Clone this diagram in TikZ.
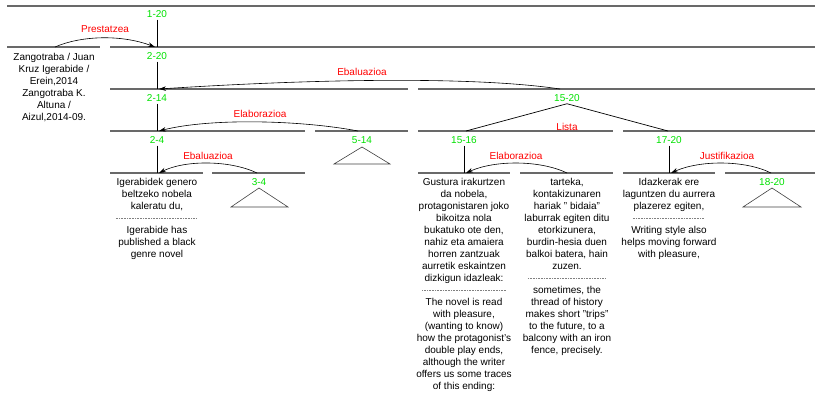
\documentclass[tikz,border=0pt]{standalone}
\usepackage{fontspec}
\setmainfont{Liberation Sans}
\usetikzlibrary{arrows.meta}
\definecolor{spancol}{RGB}{0,225,0}
\definecolor{relcol}{RGB}{255,0,0}
\definecolor{hlcol}{RGB}{105,105,105}
\newcommand{\sepline}[1]{\leavevmode{\color{gray}\leaders\hbox to 1.6pt{\hss\rule[3pt]{1pt}{0.7pt}\hss}\hskip #1}}
\begin{document}
\begin{tikzpicture}[x=1pt,y=-1pt,
  hline/.style={draw=hlcol, line width=1.4pt},
  vline/.style={draw=black, line width=0.7pt},
  spanlbl/.style={text=spancol, font=\fontsize{10}{12}\selectfont, inner sep=2pt},
  relname/.style={text=relcol, font=\fontsize{10}{12}\selectfont, inner sep=1pt},
  txt/.style={font=\fontsize{10}{12}\selectfont, align=center, inner sep=0pt, anchor=north},
  arr/.style={draw=black, line width=0.6pt, -{Stealth[length=7pt,width=4.5pt]}},
  tri/.style={draw=gray!50!black, line width=0.6pt}]
\useasboundingbox (0,0) rectangle (815,393);

% horizontal level lines
\draw[hline] (7,6) -- (815,6);
\draw[hline] (7,47) -- (100,47);
\draw[hline] (110,47) -- (815,47);
\draw[hline] (110,89) -- (408,89);
\draw[hline] (418,89) -- (815,89);
\draw[hline] (110,131) -- (305,131);
\draw[hline] (315,131) -- (408,131);
\draw[hline] (418,131) -- (613,131);
\draw[hline] (623,131) -- (815,131);
\draw[hline] (110,173) -- (203,173);
\draw[hline] (212,173) -- (305,173);
\draw[hline] (418,173) -- (510,173);
\draw[hline] (520,173) -- (613,173);
\draw[hline] (623,173) -- (715,173);
\draw[hline] (725,173) -- (815,173);

% span labels
\node[spanlbl] (s120) at (157,14) {1-20};
\node[spanlbl] (s220) at (157,56) {2-20};
\node[spanlbl] (s214) at (157,98) {2-14};
\node[spanlbl] (s24) at (157,140) {2-4};
\node[spanlbl] (s514) at (362,140) {5-14};
\node[spanlbl] (s1520) at (567,98) {15-20};
\node[spanlbl] (s1516) at (464,140) {15-16};
\node[spanlbl] (s1720) at (669,140) {17-20};
\node[spanlbl] (s34) at (259,182) {3-4};
\node[spanlbl] (s1820) at (772,182) {18-20};

% coordinates
\coordinate (b120) at (157,47);
\coordinate (b220) at (157,89);
\coordinate (b214) at (157,131);
\coordinate (b24) at (157,173);
\coordinate (b1516) at (464,173);
\coordinate (b1720) at (669,173);
\coordinate (k1516) at (466,131);
\coordinate (k1720) at (668,131);

% vertical lines
\draw[vline] (s120.south) -- (b120);
\draw[vline] (s220.south) -- (b220);
\draw[vline] (s214.south) -- (b214);
\draw[vline] (s24.south) -- (b24);
\draw[vline] (s1516.south) -- (b1516);
\draw[vline] (s1720.south) -- (b1720);
\draw[vline] (s1520.south) -- (k1516);
\draw[vline] (s1520.south) -- (k1720);

% triangles
\coordinate (t514a) at (362,147);
\draw[tri] (t514a) -- (334,164) -- (390,164) -- cycle;
\coordinate (t34a) at (259,188);
\draw[tri] (t34a) -- (231,207) -- (288,207) -- cycle;
\coordinate (t1820a) at (772,188);
\draw[tri] (t1820a) -- (743,207) -- (801,207) -- cycle;

% relation arrows
\coordinate (p1) at (55,47);
\coordinate (p2) at (155,47);
\draw[arr] (p1) .. controls (80,36) and (120,34) .. (p2);
\node[relname] (rprest) at (105,29) {Prestatzea};

\coordinate (e1) at (560,89);
\coordinate (e2) at (159,89);
\draw[arr] (e1) .. controls (480,77) and (330,78) .. (e2);
\node[relname] (reb1) at (362,72) {Ebaluazioa};

\coordinate (el1) at (358,131);
\coordinate (el2) at (159,131);
\draw[arr] (el1) .. controls (300,120) and (210,118) .. (el2);
\node[relname] (rel1) at (260,114) {Elaborazioa};

\coordinate (eb1) at (257,173);
\coordinate (eb2) at (159,173);
\draw[arr] (eb1) .. controls (230,160) and (185,160) .. (eb2);
\node[relname] (reb2) at (208,156) {Ebaluazioa};

\coordinate (er1) at (567,173);
\coordinate (er2) at (466,173);
\draw[arr] (er1) .. controls (540,160) and (495,160) .. (er2);
\node[relname] (rel2) at (516,156) {Elaborazioa};

\coordinate (j1) at (771,173);
\coordinate (j2) at (671,173);
\draw[arr] (j1) .. controls (745,160) and (700,160) .. (j2);
\node[relname] (rjust) at (727,156) {Justifikazioa};

\node[relname] (rlista) at (567,127) {Lista};

% text blocks
\node[txt] (cite) at (54,51.6) {\strut Zangotraba / Juan\\Kruz Igerabide /\\Erein,2014\\Zangotraba K.\\Altuna /\\Aizul,2014-09.};

\node[txt] (u24) at (157,177.1) {\strut Igerabidek genero\\beltzeko nobela\\kaleratu du,\\\sepline{83pt}\\Igerabide has\\published a black\\genre novel};

\node[txt] (u1516) at (464,177.1) {\strut Gustura irakurtzen\\da nobela,\\protagonistaren joko\\bikoitza nola\\bukatuko ote den,\\nahiz eta amaiera\\horren zantzuak\\aurretik eskaintzen\\dizkigun idazleak:\\\sepline{86pt}\\The novel is read\\with pleasure,\\(wanting to know)\\how the protagonist's\\double play ends,\\although the writer\\offers us some traces\\of this ending:};

\node[txt] (u16) at (567,177.1) {\strut tarteka,\\kontakizunaren\\hariak " bidaia"\\laburrak egiten ditu\\etorkizunera,\\burdin-hesia duen\\balkoi batera, hain\\zuzen.\\\sepline{80pt}\\sometimes, the\\thread of history\\makes short "trips"\\to the future, to a\\balcony with an iron\\fence, precisely.};

\node[txt] (u1720) at (669,177.1) {\strut Idazkerak ere\\laguntzen du aurrera\\plazerez egiten,\\\sepline{74pt}\\Writing style also\\helps moving forward\\with pleasure,};
\end{tikzpicture}
\end{document}
